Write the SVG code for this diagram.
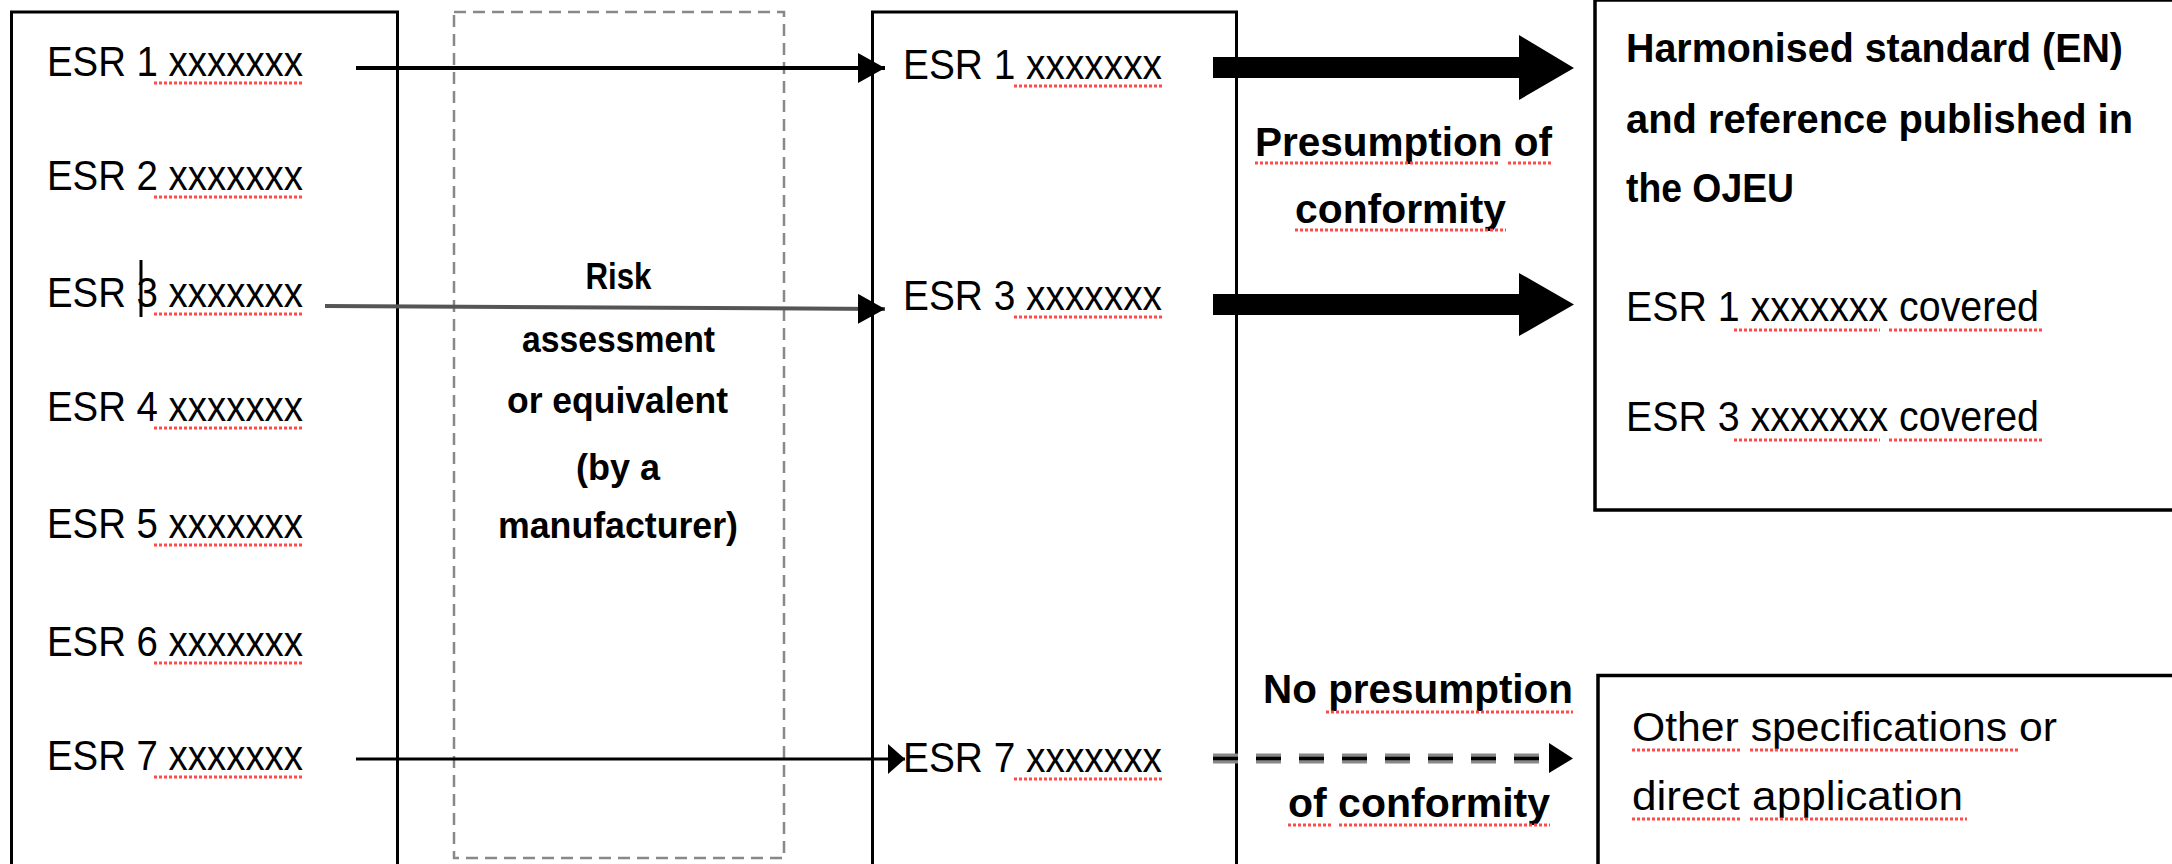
<svg xmlns="http://www.w3.org/2000/svg" width="2172" height="864" viewBox="0 0 2172 864">
<defs>
<style>
.t{font-family:"Liberation Sans",Arial,sans-serif;fill:#000}
.reg{font-size:42px}
.bold{font-size:40px;font-weight:bold}
.small{font-size:36px;font-weight:bold}
.box{fill:none;stroke:#000;stroke-width:3}
.dbox{fill:none;stroke:#888;stroke-width:2.5;stroke-dasharray:12 7}
.sq{stroke:#ff4a4a;stroke-width:3;stroke-dasharray:3 2;fill:none}
.thin{stroke:#000;stroke-width:4;fill:none}
</style>
<marker id="ah" viewBox="0 0 27 30" refX="27" refY="15" markerWidth="27" markerHeight="30" markerUnits="userSpaceOnUse" orient="auto">
<path d="M0,0 L27,15 L0,30 z" fill="#000"/>
</marker>
<marker id="ah2" viewBox="0 0 17 30" refX="17" refY="15" markerWidth="17" markerHeight="30" markerUnits="userSpaceOnUse" orient="auto">
<path d="M0,0 L17,15 L0,30 z" fill="#000"/>
</marker>
</defs>
<rect width="2172" height="864" fill="#fff"/>

<g id="esr-list">
<rect class="box" x="11.5" y="12" width="386" height="900"/>
<text class="t reg" x="47" y="76" textLength="256" lengthAdjust="spacingAndGlyphs">ESR 1 xxxxxxx</text>
<text class="t reg" x="47" y="190" textLength="256" lengthAdjust="spacingAndGlyphs">ESR 2 xxxxxxx</text>
<text class="t reg" x="47" y="307" textLength="256" lengthAdjust="spacingAndGlyphs">ESR 3 xxxxxxx</text>
<text class="t reg" x="47" y="421" textLength="256" lengthAdjust="spacingAndGlyphs">ESR 4 xxxxxxx</text>
<text class="t reg" x="47" y="538" textLength="256" lengthAdjust="spacingAndGlyphs">ESR 5 xxxxxxx</text>
<text class="t reg" x="47" y="656" textLength="256" lengthAdjust="spacingAndGlyphs">ESR 6 xxxxxxx</text>
<text class="t reg" x="47" y="770" textLength="256" lengthAdjust="spacingAndGlyphs">ESR 7 xxxxxxx</text>
<line x1="141" y1="260" x2="141" y2="317" stroke="#000" stroke-width="3"/>
<path class="sq" d="M154,83H304 M154,197H304 M154,314H304 M154,428H304 M154,545H304 M154,663H304 M154,777H304"/>
</g>

<g id="risk-assessment">
<rect class="dbox" x="454" y="12" width="330" height="846"/>
<text class="t small" x="585.5" y="289" textLength="66" lengthAdjust="spacingAndGlyphs">Risk</text>
<text class="t small" x="522" y="352" textLength="193" lengthAdjust="spacingAndGlyphs">assessment</text>
<text class="t small" x="507" y="413" textLength="221" lengthAdjust="spacingAndGlyphs">or equivalent</text>
<text class="t small" x="576" y="480" textLength="84" lengthAdjust="spacingAndGlyphs">(by a</text>
<text class="t small" x="498" y="538" textLength="240" lengthAdjust="spacingAndGlyphs">manufacturer)</text>
</g>

<g id="selected-esr">
<rect class="box" x="872.5" y="12" width="364" height="900"/>
<text class="t reg" x="903" y="79" textLength="259" lengthAdjust="spacingAndGlyphs">ESR 1 xxxxxxx</text>
<text class="t reg" x="903" y="310" textLength="259" lengthAdjust="spacingAndGlyphs">ESR 3 xxxxxxx</text>
<text class="t reg" x="903" y="772" textLength="259" lengthAdjust="spacingAndGlyphs">ESR 7 xxxxxxx</text>
<path class="sq" d="M1014,86H1162 M1014,317H1162 M1014,779H1162"/>
</g>

<g id="presumption-label">
<text class="t bold" x="1255" y="156" textLength="297" lengthAdjust="spacingAndGlyphs">Presumption of</text>
<text class="t bold" x="1295" y="223" textLength="211" lengthAdjust="spacingAndGlyphs">conformity</text>
<path class="sq" d="M1255,163H1499 M1508,163H1552 M1295,230H1506"/>
</g>

<g id="no-presumption-label">
<text class="t bold" x="1263" y="703" textLength="310" lengthAdjust="spacingAndGlyphs">No presumption</text>
<text class="t bold" x="1288" y="817" textLength="262" lengthAdjust="spacingAndGlyphs">of conformity</text>
<path class="sq" d="M1326,712H1573 M1288,825H1332 M1339,825H1550"/>
</g>

<g id="harmonised-standard">
<rect class="box" x="1595" y="0" width="700" height="510" style="stroke-width:3.5"/>
<text class="t bold" x="1626" y="62" textLength="497" lengthAdjust="spacingAndGlyphs" style="font-size:41px">Harmonised standard (EN)</text>
<text class="t bold" x="1626" y="133" textLength="507" lengthAdjust="spacingAndGlyphs" style="font-size:41px">and reference published in</text>
<text class="t bold" x="1626" y="202" textLength="168" lengthAdjust="spacingAndGlyphs" style="font-size:41px">the OJEU</text>
<text class="t reg" x="1626" y="321" textLength="413" lengthAdjust="spacingAndGlyphs">ESR 1 xxxxxxx covered</text>
<text class="t reg" x="1626" y="431" textLength="413" lengthAdjust="spacingAndGlyphs">ESR 3 xxxxxxx covered</text>
<path class="sq" d="M1734,330H1880 M1889,330H2043 M1734,440H1880 M1889,440H2043"/>
</g>

<g id="other-specifications">
<rect class="box" x="1598" y="675.5" width="700" height="300" style="stroke-width:3.5"/>
<text class="t reg" x="1632" y="741" textLength="425" lengthAdjust="spacingAndGlyphs" style="font-size:41px">Other specifications or</text>
<text class="t reg" x="1632" y="810" textLength="331" lengthAdjust="spacingAndGlyphs" style="font-size:41px">direct application</text>
<path class="sq" d="M1632,750H1740 M1750,750H2018 M1632,819H1740 M1750,819H1967"/>
</g>

<g id="connectors">
<line class="thin" x1="356" y1="68" x2="885" y2="68" marker-end="url(#ah)"/>
<line x1="325" y1="306" x2="885" y2="309" stroke="#555" stroke-width="4" marker-end="url(#ah)"/>
<line x1="356" y1="759" x2="905" y2="759" stroke="#000" stroke-width="3" marker-end="url(#ah2)"/>
<polygon points="1213,57 1519,57 1519,35 1574,68 1519,100 1519,78 1213,78" fill="#000"/>
<polygon points="1213,294 1519,294 1519,273 1574,304.5 1519,336 1519,315 1213,315" fill="#000"/>
<line x1="1213" y1="758.5" x2="1540" y2="758.5" stroke="#888" stroke-width="10" stroke-dasharray="25 18"/>
<line x1="1213" y1="758.5" x2="1540" y2="758.5" stroke="#000" stroke-width="3.5" stroke-dasharray="25 18"/>
<polygon points="1549,743 1573,758.5 1549,773" fill="#000"/>
</g>
</svg>
